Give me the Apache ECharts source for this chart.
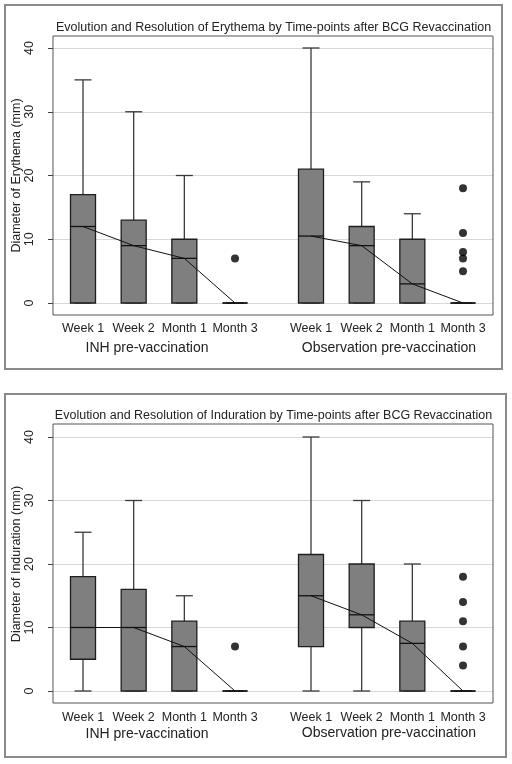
<!DOCTYPE html>
<html>
<head>
<meta charset="utf-8">
<script src="https://cdn.jsdelivr.net/npm/echarts@6/dist/echarts.min.js"></script>
<style>
html,body{margin:0;padding:0;background:#fff;}
#chart{width:512px;height:764px;}
</style>
</head>
<body>
<div id="chart"></div>
<script>
// ---------- data ----------
const categories = ['Week 1', 'Week 2', 'Month 1', 'Month 3'];
const groups = ['INH pre-vaccination', 'Observation pre-vaccination'];
const yTicks = [0, 10, 20, 30, 40];
const titles = [
  'Evolution and Resolution of Erythema by Time-points after BCG Revaccination',
  'Evolution and Resolution of Induration by Time-points after BCG Revaccination'
];
const yNames = ['Diameter of Erythema (mm)', 'Diameter of Induration (mm)'];

// [min, Q1, median, Q3, max]
const eryInhStats = [[0, 0, 12, 17, 35], [0, 0, 9, 13, 30], [0, 0, 7, 10, 20], [0, 0, 0, 0, 0]];
const eryObsStats = [[0, 0, 10.5, 21, 40], [0, 0, 9, 12, 19], [0, 0, 3, 10, 14], [0, 0, 0, 0, 0]];
const eryInhOutliers = [['Month 3', 7]];
const eryObsOutliers = [['Month 3', 18], ['Month 3', 11], ['Month 3', 8], ['Month 3', 7], ['Month 3', 5]];

const indInhStats = [[0, 5, 10, 18, 25], [0, 0, 10, 16, 30], [0, 0, 7, 11, 15], [0, 0, 0, 0, 0]];
const indObsStats = [[0, 7, 15, 21.5, 40], [0, 10, 12, 20, 30], [0, 0, 7.5, 11, 20], [0, 0, 0, 0, 0]];
const indInhOutliers = [['Month 3', 7]];
const indObsOutliers = [['Month 3', 18], ['Month 3', 14], ['Month 3', 11], ['Month 3', 7], ['Month 3', 4]];

// ---------- layout ----------
const FONT = "'Liberation Sans', Arial, sans-serif";
const panels = [
  { top: 48, height: 255, outer: [5, 5, 497, 364], plot: [53, 36, 440, 279], titleY: 28, catY: 322, groupY: [348, 348],
    stats: [eryInhStats, eryObsStats], outliers: [eryInhOutliers, eryObsOutliers] },
  { top: 437, height: 254, outer: [5, 394, 501, 363], plot: [53, 424, 440, 279], titleY: 416, catY: 711, groupY: [734, 733],
    stats: [indInhStats, indObsStats], outliers: [indInhOutliers, indObsOutliers] }
];
const groupGrids = [{ left: 57.67, width: 202.67 }, { left: 285.67, width: 202.67 }];
const groupLabelX = [147, 389];

const grid = [], xAxis = [], yAxis = [], series = [], graphic = [];

function renderBox(params, api) {
  const x = api.value(0);
  const lo = api.coord([x, api.value(1)]);
  const q1 = api.coord([x, api.value(2)]);
  const md = api.coord([x, api.value(3)]);
  const q3 = api.coord([x, api.value(4)]);
  const hi = api.coord([x, api.value(5)]);
  const cx = lo[0], bw = 25, cw = 17;
  const wStyle = { stroke: '#3a3a3a', lineWidth: 1.3 };
  return {
    type: 'group',
    children: [
      { type: 'line', shape: { x1: cx, y1: hi[1], x2: cx, y2: q3[1] }, style: wStyle },
      { type: 'line', shape: { x1: cx, y1: q1[1], x2: cx, y2: lo[1] }, style: wStyle },
      { type: 'line', shape: { x1: cx - cw / 2, y1: hi[1], x2: cx + cw / 2, y2: hi[1] }, style: wStyle },
      { type: 'line', shape: { x1: cx - cw / 2, y1: lo[1], x2: cx + cw / 2, y2: lo[1] }, style: wStyle },
      { type: 'rect', shape: { x: cx - bw / 2, y: q3[1], width: bw, height: q1[1] - q3[1] },
        style: { fill: '#7f7f7f', stroke: '#1e1e1e', lineWidth: 1.3 } },
      { type: 'line', shape: { x1: cx - bw / 2, y1: md[1], x2: cx + bw / 2, y2: md[1] },
        style: { stroke: '#111', lineWidth: 1.3 } }
    ]
  };
}

panels.forEach((p, pi) => {
  const gFull = grid.length;
  grid.push({ left: 53, width: 440, top: p.top, height: p.height, containLabel: false, outerBoundsMode: 'none' });
  xAxis.push({ gridIndex: gFull, type: 'value', show: false, min: 0, max: 1 });
  yAxis.push({
    gridIndex: gFull, type: 'value', position: 'left', min: yTicks[0], max: yTicks[yTicks.length - 1], interval: 10,
    axisLine: { show: false, onZero: false },
    axisTick: { show: true, inside: false, length: 5, lineStyle: { color: '#444', width: 1 } },
    axisLabel: { rotate: 90, fontSize: 12.5, fontFamily: FONT, color: '#222', margin: 23,
      align: 'center', verticalAlign: 'middle' },
    splitLine: { show: true, lineStyle: { color: '#d8d8d8', width: 1 } }
  });

  groupGrids.forEach((gg, gi) => {
    const gIdx = grid.length;
    grid.push({ left: gg.left, width: gg.width, top: p.top, height: p.height, containLabel: false, outerBoundsMode: 'none' });
    xAxis.push({
      gridIndex: gIdx, type: 'category', data: categories, boundaryGap: true,
      axisLine: { show: false }, axisTick: { show: false },
      axisLabel: { interval: 0, fontSize: 12.5, fontFamily: FONT, color: '#222', margin: p.catY - (p.top + p.height) }
    });
    yAxis.push({ gridIndex: gIdx, type: 'value', min: 0, max: 40, interval: 10, show: false, splitLine: { show: false } });

    const stats = p.stats[gi];
    series.push({
      type: 'custom', xAxisIndex: gIdx, yAxisIndex: gIdx, renderItem: renderBox, z: 2,
      encode: { x: 0, y: [1, 2, 3, 4, 5] },
      data: stats.map((s, i) => [i].concat(s))
    });
    series.push({
      type: 'line', xAxisIndex: gIdx, yAxisIndex: gIdx, z: 5, symbol: 'none', silent: true,
      lineStyle: { color: '#111', width: 1 },
      data: stats.map((s, i) => [categories[i], s[2]])
    });
    series.push({
      type: 'scatter', xAxisIndex: gIdx, yAxisIndex: gIdx, z: 5, symbol: 'circle', symbolSize: 8,
      itemStyle: { color: '#000' },
      data: p.outliers[gi]
    });
    graphic.push({
      type: 'text', x: groupLabelX[gi], y: p.groupY[gi],
      style: { text: groups[gi], font: '14px ' + FONT, fill: '#222', textAlign: 'center', textVerticalAlign: 'middle' }
    });
  });

  graphic.push({
    type: 'rect', shape: { x: p.outer[0], y: p.outer[1], width: p.outer[2], height: p.outer[3] },
    style: { fill: 'none', stroke: '#8a8a8a', lineWidth: 2 }, z: 0
  });
  graphic.push({
    type: 'rect', shape: { x: p.plot[0], y: p.plot[1], width: p.plot[2], height: p.plot[3] },
    style: { fill: 'none', stroke: '#555', lineWidth: 1 }, z: 10
  });
  graphic.push({
    type: 'text', x: 273.5, y: p.titleY,
    style: { text: titles[pi], font: '12.5px ' + FONT, fill: '#222', textAlign: 'center', textVerticalAlign: 'middle' }
  });
  graphic.push({
    type: 'text', x: 17, y: p.top + p.height / 2, rotation: Math.PI / 2,
    style: { text: yNames[pi], font: '12.5px ' + FONT, fill: '#222', textAlign: 'center', textVerticalAlign: 'middle' }
  });
});

const chart = echarts.init(document.getElementById('chart'), null, { renderer: 'canvas' });
chart.setOption({
  animation: false,
  backgroundColor: '#fff',
  grid: grid, xAxis: xAxis, yAxis: yAxis, series: series, graphic: graphic
});
</script>
</body>
</html>
